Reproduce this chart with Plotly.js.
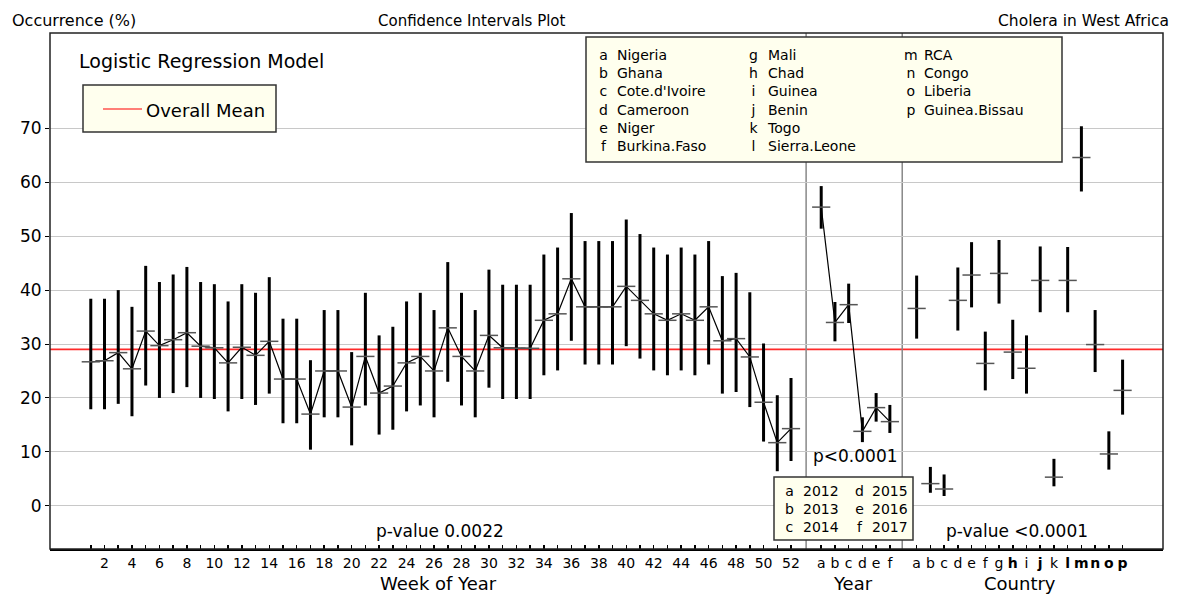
<!DOCTYPE html>
<html><head><meta charset="utf-8">
<script src="https://cdn.plot.ly/plotly-3.0.1.min.js"></script>
<style>html,body{margin:0;padding:0;background:#fff;} #chart{width:1177px;height:595px;}</style>
</head><body><div id="chart"></div>
<script>
// ---------------- DATA ----------------
const weeks = [1,2,3,4,5,6,7,8,9,10,11,12,13,14,15,16,17,18,19,20,21,22,23,24,25,26,
               27,28,29,30,31,32,33,34,35,36,37,38,39,40,41,42,43,44,45,46,47,48,49,50,51,52];
const weekMean  = [26.7,26.9,28.4,25.4,32.4,29.7,30.8,32.1,29.6,29.3,26.5,29.4,27.9,30.5,23.5,23.5,
                   17.0,25.0,25.0,18.3,27.7,20.9,22.2,26.5,27.7,25.0,33.0,27.7,25.0,31.6,29.3,29.2,
                   29.2,34.4,35.6,42.1,36.9,36.9,36.9,40.7,38.1,35.6,34.4,35.6,34.4,36.9,30.6,31.0,
                   27.6,19.2,11.7,14.3];
const weekUpper = [38.4,38.4,40.0,36.9,44.5,41.5,42.9,44.3,41.5,41.1,37.9,41.1,39.5,42.4,34.7,34.7,
                   27.0,36.3,36.3,28.5,39.5,31.6,33.2,37.9,39.5,36.3,45.2,39.5,36.3,43.8,41.0,41.0,
                   41.0,46.6,47.9,54.3,49.1,49.1,49.1,53.1,50.4,47.9,46.6,47.9,46.6,49.1,42.6,43.2,
                   39.6,30.1,20.5,23.7];
const weekLower = [17.9,17.9,18.9,16.6,22.3,20.0,20.9,22.0,20.0,19.8,17.5,19.8,18.7,20.8,15.3,15.3,
                   10.4,16.4,16.4,11.2,18.6,13.2,14.1,17.5,18.6,16.4,23.0,18.6,16.4,21.9,19.8,19.8,
                   19.8,24.2,25.1,30.6,26.2,26.2,26.2,29.6,27.3,25.1,24.2,25.1,24.2,26.2,20.8,21.1,
                   18.3,11.9,6.4,8.3];

const yearCodes = ['a','b','c','d','e','f'];
const yearNames = ['2012','2013','2014','2015','2016','2017'];
const yearMean  = [55.4,34.0,37.3,13.8,18.2,15.6];
const yearUpper = [59.3,37.8,41.2,16.4,20.9,18.7];
const yearLower = [51.4,30.5,33.9,11.8,15.6,13.5];

const countryCodes = ['a','b','c','d','e','f','g','h','i','j','k','l','m','n','o','p'];
const countryNames = ['Nigeria','Ghana',"Cote.d'Ivoire",'Cameroon','Niger','Burkina.Faso',
                      'Mali','Chad','Guinea','Benin','Togo','Sierra.Leone',
                      'RCA','Congo','Liberia','Guinea.Bissau'];
const countryMean  = [36.6,4.1,3.1,38.1,42.8,26.4,43.1,28.5,25.5,41.8,5.3,41.8,64.6,29.9,9.6,21.4];
const countryUpper = [42.7,7.2,5.8,44.2,48.9,32.3,49.3,34.5,31.6,48.1,8.7,48.0,70.4,36.3,13.8,27.1];
const countryLower = [31.0,2.4,1.8,32.5,36.8,21.4,37.5,23.5,20.8,35.9,3.6,35.9,58.3,24.8,6.7,16.9];
const countryBold  = ['h','j','l','m','n','o','p'];

const overallMean = 29;
const yTicks = [0,10,20,30,40,50,60,70];
const pWeek = 'p-value 0.0022';
const pYear = 'p<0.0001';
const pCountry = 'p-value <0.0001';

// ---------------- LAYOUT HELPERS ----------------
const FONT = 'DejaVu Sans';
const L = 50, R = 14, T = 33, B = 46;
const plotW = 1177 - L - R, plotH = 595 - T - B;
const unitX = 13.73, unitY = 5.39;
const xMin = -1.97, xMax = xMin + plotW / unitX;
const yMin = -8.03, yMax = yMin + plotH / unitY;
const yearStart = 54.2, countryStart = 61.15;
const sep1 = 53.1, sep2 = 60.1;
const xp = px => (px - L) / plotW;
const yp = py => (595 - B - py) / plotH;

const yearX = yearCodes.map((c, i) => yearStart + i);
const countryX = countryCodes.map((c, i) => countryStart + i);

function errTrace(x, m, up, lo, mode) {
  return {
    type: 'scatter', x: x, y: m, mode: mode, hoverinfo: 'skip',
    line: {color: 'black', width: 1.2},
    marker: {symbol: 'line-ew', size: 13, color: '#555', line: {color: '#555', width: 1.5}},
    error_y: {type: 'data', symmetric: false,
              array: up.map((u, i) => u - m[i]),
              arrayminus: lo.map((l, i) => m[i] - l),
              thickness: 3, width: 0, color: 'black'}
  };
}

const traces = [
  errTrace(weeks, weekMean, weekUpper, weekLower, 'lines+markers'),
  errTrace(yearX, yearMean, yearUpper, yearLower, 'lines+markers'),
  errTrace(countryX, countryMean, countryUpper, countryLower, 'markers')
];

const tickvals = weeks.concat(yearX, countryX);
const ticktext = weeks.map(w => (w % 2 === 0 ? String(w) : ''))
  .concat(yearCodes)
  .concat(countryCodes.map(c => countryBold.includes(c) ? '<b>' + c + '</b>' : c));

function ann(text, px, py, size, xanchor, extra) {
  return Object.assign({
    text: text, xref: 'paper', yref: 'paper', x: xp(px), y: yp(py),
    xanchor: xanchor || 'center', yanchor: 'middle', showarrow: false,
    align: xanchor === 'center' || !xanchor ? 'center' : xanchor,
    font: {family: FONT, size: size, color: 'black'}
  }, extra || {});
}

const annotations = [
  ann('Occurrence (%)', 10, 21, 16, 'left'),
  ann('Confidence Intervals Plot', 472, 21, 15, 'center'),
  ann('Cholera in West Africa', 1171, 21, 15.5, 'right'),
  ann('Logistic Regression Model', 77, 61, 19, 'left'),
  ann('Overall Mean', 144, 110, 18, 'left'),
  ann(pWeek, 440, 531, 17, 'center'),
  ann(pYear, 855, 456, 17, 'center'),
  ann(pCountry, 1017, 531, 17, 'center'),
  ann('Week of Year', 438, 583, 18, 'center'),
  ann('Year', 853, 583, 18, 'center'),
  ann('Country', 1020, 583, 18, 'center')
];

// country legend box: three columns, each a block of letters and a block of names
const colLetterX = [603, 753, 911];
const colNameX = [615, 765, 922];
const colSize = [6, 6, 4];
let start = 0;
colSize.forEach((n, col) => {
  const codes = countryCodes.slice(start, start + n);
  const names = countryNames.slice(start, start + n);
  annotations.push(ann(codes.join('<br>'), colLetterX[col], 45, 14, 'center', {yanchor: 'top'}));
  annotations.push(ann(names.join('<br>'), colNameX[col], 45, 14, 'left', {yanchor: 'top'}));
  start += n;
});
// year legend box: two columns
const yColLetterX = [789, 859];
const yColNameX = [801, 870];
[0, 1].forEach(col => {
  const codes = yearCodes.slice(col * 3, col * 3 + 3);
  const names = yearNames.slice(col * 3, col * 3 + 3);
  annotations.push(ann(codes.join('<br>'), yColLetterX[col], 509, 14, 'center'));
  annotations.push(ann(names.join('<br>'), yColNameX[col], 509, 14, 'left'));
});

const boxFill = '#ffffee';
const shapes = [
  {type: 'line', xref: 'paper', yref: 'y', x0: 0, x1: 1, y0: overallMean, y1: overallMean,
   line: {color: '#ff2a2a', width: 1.6}, layer: 'below'},
  {type: 'line', xref: 'x', yref: 'paper', x0: sep1, x1: sep1, y0: 0, y1: 1,
   line: {color: '#888', width: 1.5}, layer: 'below'},
  {type: 'line', xref: 'x', yref: 'paper', x0: sep2, x1: sep2, y0: 0, y1: 1,
   line: {color: '#888', width: 1.5}, layer: 'below'},
  {type: 'rect', xref: 'paper', yref: 'paper', x0: 0, x1: 1, y0: 0, y1: 1,
   line: {color: '#222', width: 1.5}, layer: 'above'},
  {type: 'rect', xref: 'paper', yref: 'paper', x0: xp(83), x1: xp(276), y0: yp(132), y1: yp(85),
   fillcolor: boxFill, line: {color: '#333', width: 1.5}, layer: 'above'},
  {type: 'line', xref: 'paper', yref: 'paper', x0: xp(103), x1: xp(142), y0: yp(109), y1: yp(109),
   line: {color: 'red', width: 1.2}, layer: 'above'},
  {type: 'rect', xref: 'paper', yref: 'paper', x0: xp(586), x1: xp(1062), y0: yp(162), y1: yp(37),
   fillcolor: boxFill, line: {color: '#333', width: 1.5}, layer: 'above'},
  {type: 'rect', xref: 'paper', yref: 'paper', x0: xp(774), x1: xp(913), y0: yp(540), y1: yp(477),
   fillcolor: boxFill, line: {color: '#333', width: 1.5}, layer: 'above'}
];

const layout = {
  width: 1177, height: 595,
  margin: {l: L, r: R, t: T, b: B, pad: 0},
  paper_bgcolor: 'white', plot_bgcolor: 'white',
  showlegend: false,
  font: {family: FONT, color: 'black'},
  xaxis: {
    range: [xMin, xMax], tickmode: 'array', tickvals: tickvals, ticktext: ticktext,
    ticks: 'inside', ticklen: 4, tickwidth: 1.5, tickcolor: 'black',
    showgrid: false, zeroline: false, showline: true, linecolor: 'black', linewidth: 2,
    tickfont: {family: FONT, size: 14, color: 'black'}, tickangle: 0, fixedrange: true
  },
  yaxis: {
    range: [yMin, yMax], tickmode: 'array', tickvals: yTicks,
    ticks: 'outside', ticklen: 4, tickcolor: 'black', tickwidth: 1,
    showgrid: true, gridcolor: '#c8c8c8', gridwidth: 1, zeroline: false, showline: false,
    tickfont: {family: FONT, size: 17, color: 'black'}, fixedrange: true
  },
  shapes: shapes,
  annotations: annotations
};

Plotly.newPlot('chart', traces, layout, {displayModeBar: false, staticPlot: true});
</script>
</body></html>
